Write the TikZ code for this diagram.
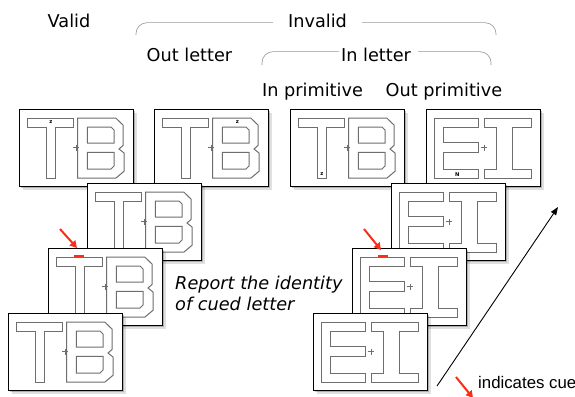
\documentclass[tikz,border=0pt]{standalone}
\usepackage{fontspec}
\setmainfont{DejaVu Sans}
\newfontfamily\legendfont{Liberation Sans}
\usetikzlibrary{shadows,arrows.meta}
\definecolor{cuered}{RGB}{250,45,25}
\definecolor{bracketgray}{RGB}{150,150,150}
\definecolor{lettergray}{RGB}{110,110,110}
\tikzset{
  stim/.style={draw=black, line width=0.8pt, fill=white, minimum width=114pt,
    minimum height=77pt, inner sep=0pt, outer sep=0pt, anchor=north west,
    general shadow={fill=black, opacity=.12, shadow xshift=3.5pt, shadow yshift=-3.5pt},
    general shadow={fill=black, opacity=.22, shadow xshift=2pt, shadow yshift=-2pt}},
  letter/.style={draw=lettergray, line width=1pt, line join=miter},
  fixcross/.style={draw=lettergray, line width=0.5pt},
  title/.style={font=\fontsize{17.7}{21}\selectfont, anchor=base, inner sep=0pt},
  bracket/.style={draw=bracketgray, line width=0.6pt, rounded corners=11pt},
  tinylab/.style={font=\fontsize{5.2}{6}\selectfont\bfseries, inner sep=0pt},
  cuearrow/.style={draw=cuered, line width=2pt, -{Triangle[length=7pt,width=7.5pt]}},
  cueline/.style={draw=cuered, line width=1.8pt},
  timearrow/.style={draw=black, line width=0.9pt, -{Triangle[length=8pt,width=6pt]}},
  pics/TB/.style={code={
    \draw[letter] (8.5,9) -- (54,9) -- (54,18) -- (36.7,18) -- (36.7,69) -- (27.4,69) -- (27.4,18) -- (8.5,18) -- cycle;
    \draw[letter] (58.5,9) -- (96.7,9) -- (104,16) -- (104,36.5) -- (100,40) -- (105,44) -- (105,62.3) -- (97,69) -- (58.5,69) -- cycle;
    \draw[letter] (68.4,18) -- (92,18) -- (95,21) -- (95,34) -- (68.4,34) -- cycle;
    \draw[letter] (68.4,43.3) -- (95,43.3) -- (95,57) -- (92,60) -- (68.4,60) -- cycle;
    \draw[fixcross] (54,38.5) -- (60,38.5) (57,35.5) -- (57,41.5);
  }},
  pics/EI/.style={code={
    \draw[letter] (8.4,9) -- (52.7,9) -- (52.7,18) -- (17.4,18) -- (17.4,33.3) -- (52.7,33.3) -- (52.7,43.3) -- (17.4,43.3) -- (17.4,60) -- (52.7,60) -- (52.7,69) -- (8.4,69) -- cycle;
    \draw[letter] (58.5,9) -- (105,9) -- (105,18) -- (86.5,18) -- (86.5,60) -- (105,60) -- (105,69) -- (58.5,69) -- (58.5,60) -- (70,60) -- (70,18) -- (58.5,18) -- cycle;
    \draw[fixcross] (54.5,38.5) -- (61,38.5) (58,35.5) -- (58,41.5);
  }}
}
\begin{document}
\begin{tikzpicture}[x=1pt,y=-1pt]
\useasboundingbox (0,0) rectangle (575,396);

% headings
\node[title] (valid) at (69,27.3) {Valid};
\node[title] (invalid) at (317.5,27.3) {Invalid};
\node[title] (outletter) at (189.5,62) {Out letter};
\node[title] (inletter) at (376,62) {In letter};
\node[title] (inprim) at (312.5,96.5) {In primitive};
\node[title] (outprim) at (444,96.5) {Out primitive};

% brackets
\coordinate (ibl) at (136,35);
\coordinate (ibr) at (496,35);
\draw[bracket] (ibl) -- (136,22.7) -- (273,22.7);
\draw[bracket] (362,22.7) -- (496,22.7) -- (ibr);
\coordinate (lbl) at (262,65);
\coordinate (lbr) at (491,65);
\draw[bracket] (lbl) -- (262,51.7) -- (339,51.7);
\draw[bracket] (418,51.7) -- (491,51.7) -- (lbr);

% row 1
\node[stim] (A) at (19,109) {};
\pic at (A.north west) {TB};
\node[tinylab] (zA) at ([shift={(32,13.3)}]A.north west) {z};
\node[stim] (B) at (154,109) {};
\pic at (B.north west) {TB};
\node[tinylab] (zB) at ([shift={(83.3,13.3)}]B.north west) {z};
\node[stim] (C) at (290,109) {};
\pic at (C.north west) {TB};
\node[tinylab] (zC) at ([shift={(32,65.3)}]C.north west) {z};
\node[stim] (D) at (426,109) {};
\pic at (D.north west) {EI};
\node[tinylab] (nD) at ([shift={(31.3,65.3)}]D.north west) {N};

% row 2
\node[stim] (TB2) at (87,183) {};
\pic at (TB2.north west) {TB};
\node[stim] (EI2) at (391,183) {};
\pic at (EI2.north west) {EI};

% row 3
\node[stim] (TB3) at (48,248) {};
\pic at (TB3.north west) {TB};
\draw[cueline] ([shift={(26,8)}]TB3.north west) -- ([shift={(35.5,8)}]TB3.north west);
\node[stim] (EI3) at (352,248) {};
\pic at (EI3.north west) {EI};
\draw[cueline] ([shift={(26,8)}]EI3.north west) -- ([shift={(36,8)}]EI3.north west);

% row 4
\node[stim] (TB4) at (8,313) {};
\pic at (TB4.north west) {TB};
\node[stim] (EI4) at (313,313) {};
\pic at (EI4.north west) {EI};

% cue arrows
\coordinate (cTBs) at (60,229);
\coordinate (cTBe) at (77,248);
\draw[cuearrow] (cTBs) -- (cTBe);
\coordinate (cEIs) at (364,229);
\coordinate (cEIe) at (381,250);
\draw[cuearrow] (cEIs) -- (cEIe);

% instruction
\node[font=\fontsize{17.7}{21}\selectfont\itshape, anchor=base west, inner sep=0pt] (rep1) at (175,289) {Report the identity};
\node[font=\fontsize{17.7}{21}\selectfont\itshape, anchor=base west, inner sep=0pt] (rep2) at (175,310) {of cued letter};

% time arrow
\coordinate (ts) at (437,386);
\coordinate (te) at (558,207);
\draw[timearrow] (ts) -- (te);

% legend
\coordinate (ls) at (456,377);
\coordinate (le) at (473,398);
\draw[cuearrow] (ls) -- (le);
\node[font=\legendfont\fontsize{16.8}{19}\selectfont, anchor=base west, inner sep=0pt] (legend) at (478,388) {indicates cue};
\end{tikzpicture}
\end{document}
